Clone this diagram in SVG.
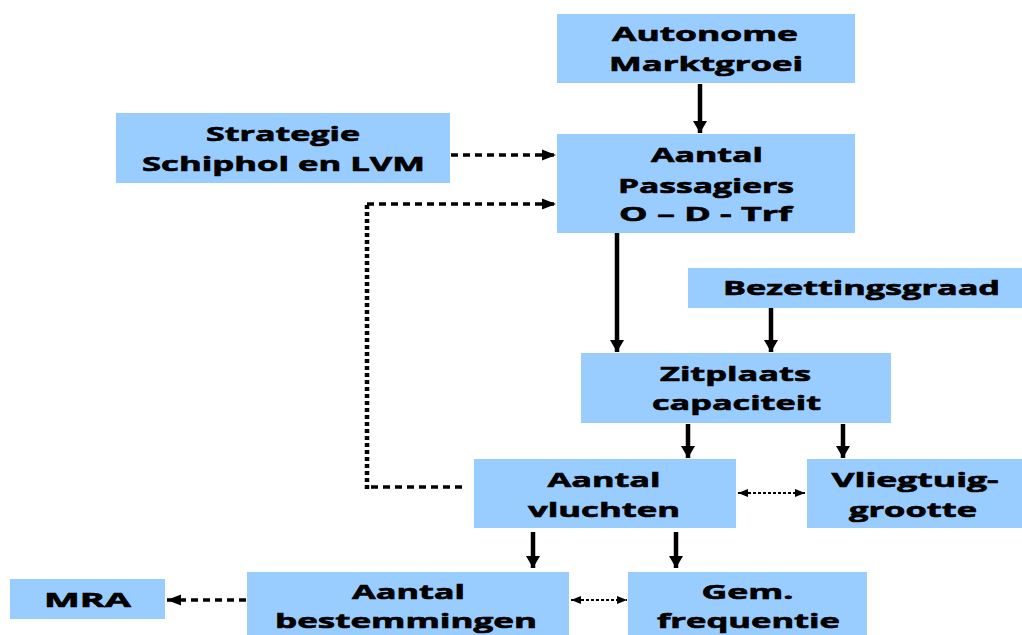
<svg xmlns="http://www.w3.org/2000/svg" width="1022" height="635" viewBox="0 0 1022 635">
<style>
.box{fill:#99CCFF;stroke:none}
.t{font-family:"Open Sans","DejaVu Sans",sans-serif;font-weight:bold;font-size:20px;fill:#000;stroke:#000;stroke-width:0.6;text-anchor:middle}
.solid{stroke:#000;stroke-width:4.5;fill:none;marker-end:url(#ah)}
.dot{stroke:#000;stroke-width:3.5;fill:none;stroke-dasharray:7 5;marker-end:url(#dh)}
.dotn{stroke:#000;stroke-width:3.5;fill:none;stroke-dasharray:7 5}
.dotv{stroke:#000;stroke-width:4.5;fill:none;stroke-dasharray:4 3}
.thin{stroke:#000;stroke-width:2;fill:none;stroke-dasharray:3 2;marker-end:url(#th);marker-start:url(#ths)}
</style>
<defs>
<marker id="ah" markerUnits="userSpaceOnUse" markerWidth="18" markerHeight="14" refX="12" refY="7" orient="auto"><path d="M0,0 L12,7 L0,14 Z" fill="#000"/></marker>
<marker id="dh" markerUnits="userSpaceOnUse" markerWidth="16" markerHeight="12" refX="14" refY="6" orient="auto"><path d="M0,0.5 L14,6 L0,11.5 Z" fill="#000"/></marker>
<marker id="th" markerUnits="userSpaceOnUse" markerWidth="12" markerHeight="10" refX="10" refY="5" orient="auto"><path d="M0,1 L10,5 L0,9 Z" fill="#000"/></marker>
<marker id="ths" markerUnits="userSpaceOnUse" markerWidth="12" markerHeight="10" refX="0" refY="5" orient="auto"><path d="M10,1 L0,5 L10,9 Z" fill="#000"/></marker>
</defs>
<g id="connectors">
<line class="solid" x1="700" y1="84" x2="700" y2="133"/>
<line class="solid" x1="617" y1="233" x2="617" y2="352"/>
<line class="solid" x1="771" y1="308" x2="771" y2="352"/>
<line class="solid" x1="688" y1="424" x2="688" y2="458"/>
<line class="solid" x1="843" y1="424" x2="843" y2="458"/>
<line class="solid" x1="533" y1="532" x2="533" y2="568"/>
<line class="solid" x1="676" y1="532" x2="676" y2="568"/>
<line class="dot" x1="451" y1="155" x2="556" y2="155"/>
<path class="dotn" d="M462,487 H365"/>
<path class="dotv" d="M367,489 V204"/>
<path class="dot" d="M367,204 H556"/>
<line class="thin" x1="738" y1="493" x2="805" y2="493"/>
<line class="dot" x1="246" y1="600" x2="167" y2="600"/>
<line class="thin" x1="571" y1="600" x2="627" y2="600"/>
</g>
<g id="n-autonome"><rect class="box" x="557" y="14" width="298" height="69"/><text class="t" x="705" y="41" textLength="186" lengthAdjust="spacingAndGlyphs">Autonome</text><text class="t" x="706" y="71" textLength="194" lengthAdjust="spacingAndGlyphs">Marktgroei</text></g>
<g id="n-strategie"><rect class="box" x="116" y="113" width="334" height="70"/><text class="t" x="283" y="141" textLength="154" lengthAdjust="spacingAndGlyphs">Strategie</text><text class="t" x="283.5" y="171" textLength="283" lengthAdjust="spacingAndGlyphs">Schiphol en LVM</text></g>
<g id="n-passagiers"><rect class="box" x="557" y="134" width="298" height="99"/><text class="t" x="707" y="162" textLength="112" lengthAdjust="spacingAndGlyphs">Aantal</text><text class="t" x="706" y="193" textLength="176" lengthAdjust="spacingAndGlyphs">Passagiers</text><text class="t" x="705.5" y="221" textLength="173" lengthAdjust="spacingAndGlyphs">O – D - Trf</text></g>
<g id="n-bezetting"><rect class="box" x="688" y="268" width="334" height="40"/><text class="t" x="861.5" y="295" textLength="277" lengthAdjust="spacingAndGlyphs">Bezettingsgraad</text></g>
<g id="n-zitplaats"><rect class="box" x="581" y="353" width="310" height="70"/><text class="t" x="735.5" y="381" textLength="151" lengthAdjust="spacingAndGlyphs">Zitplaats</text><text class="t" x="736.5" y="410" textLength="169" lengthAdjust="spacingAndGlyphs">capaciteit</text></g>
<g id="n-vluchten"><rect class="box" x="474" y="459" width="262" height="69"/><text class="t" x="604" y="487" textLength="113" lengthAdjust="spacingAndGlyphs">Aantal</text><text class="t" x="604" y="517" textLength="152" lengthAdjust="spacingAndGlyphs">vluchten</text></g>
<g id="n-vliegtuig"><rect class="box" x="807" y="459" width="215" height="69"/><text class="t" x="915" y="487" textLength="167" lengthAdjust="spacingAndGlyphs">Vliegtuig-</text><text class="t" x="913" y="517" textLength="128" lengthAdjust="spacingAndGlyphs">grootte</text></g>
<g id="n-mra"><rect class="box" x="10" y="579" width="155" height="40"/><text class="t" x="87.5" y="607" textLength="87" lengthAdjust="spacingAndGlyphs">MRA</text></g>
<g id="n-bestemmingen"><rect class="box" x="247" y="572" width="322" height="63"/><text class="t" x="408.5" y="599" textLength="113" lengthAdjust="spacingAndGlyphs">Aantal</text><text class="t" x="406" y="628" textLength="262" lengthAdjust="spacingAndGlyphs">bestemmingen</text></g>
<g id="n-frequentie"><rect class="box" x="628" y="572" width="239" height="63"/><text class="t" x="747.5" y="599" textLength="92" lengthAdjust="spacingAndGlyphs">Gem.</text><text class="t" x="748.5" y="628" textLength="183" lengthAdjust="spacingAndGlyphs">frequentie</text></g>
</svg>
